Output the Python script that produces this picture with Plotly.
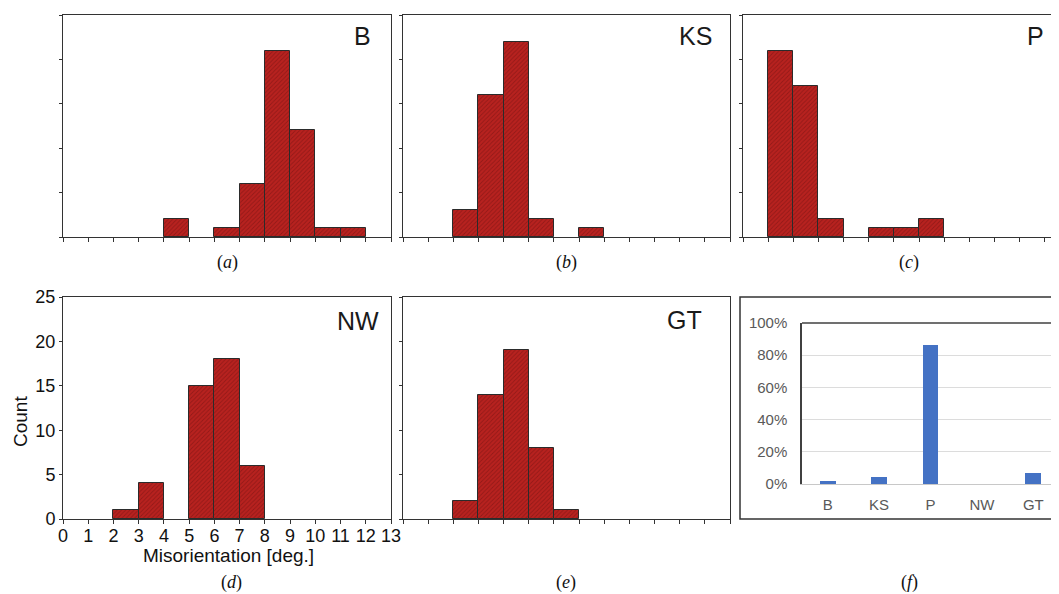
import plotly.graph_objects as go

W, H = 1059, 594
OFF = 8  # default page margin around the figure
FW, FH = W - OFF, H - OFF

# ---- data ----
bin_left = list(range(13))  # bins of 1 degree: [0,1), [1,2), ... [12,13)
counts_B = [0, 0, 0, 0, 2, 0, 1, 6, 21, 12, 1, 1, 0]
counts_KS = [0, 0, 3, 16, 22, 2, 0, 1, 0, 0, 0, 0, 0]
counts_P = [0, 21, 17, 2, 0, 1, 1, 2, 0, 0, 0, 0, 0]
counts_NW = [0, 0, 1, 4, 0, 15, 18, 6, 0, 0, 0, 0, 0]
counts_GT = [0, 0, 2, 14, 19, 8, 1, 0, 0, 0, 0, 0, 0]

share_labels = ["B", "KS", "P", "NW", "GT"]
share_values = [0.021, 0.045, 0.862, 0.0, 0.068]

count_ticks = [0, 5, 10, 15, 20, 25]
deg_ticks = list(range(14))


def px_x(p):
    return (p - OFF) / FW


def px_y(p):
    return 1 - (p - OFF) / FH


fig = go.Figure()

panels = [
    # name, counts, axis index, x px domain, y px domain, x range max, show labels, mirror y
    ("B", counts_B, 1, (63, 391), (15, 237), 13, False, True),
    ("KS", counts_KS, 2, (403, 730), (15, 237), 13, False, True),
    ("P", counts_P, 3, (743, 1059), (15, 237), 13 * (1059 - 743) / (1070 - 743), False, False),
    ("NW", counts_NW, 4, (63, 391), (297, 519), 13, True, True),
    ("GT", counts_GT, 5, (403, 730), (297, 519), 13, False, True),
]

bar_marker = dict(
    color="#b8221f",
    pattern=dict(shape="/", fgcolor="#6e0f0f", size=3, solidity=0.3, fillmode="overlay"),
    line=dict(color="#2b2b2b", width=1),
)

layout = dict(
    width=FW, height=FH,
    margin=dict(l=0, r=0, t=0, b=0, autoexpand=False),
    paper_bgcolor="white", plot_bgcolor="white",
    showlegend=False,
    bargap=0,
    template="none",
    font=dict(family="Liberation Sans, Arial, sans-serif", color="#111"),
)

for name, counts, i, xd, yd, xmax, labels, mirror_y in panels:
    xs = [b + 0.5 for b, c in zip(bin_left, counts) if c > 0]
    ys = [c for c in counts if c > 0]
    sfx = "" if i == 1 else str(i)
    fig.add_trace(go.Bar(x=xs, y=ys, width=1, marker=bar_marker,
                         xaxis="x" + sfx, yaxis="y" + sfx))
    layout["xaxis" + sfx] = dict(
        domain=[px_x(xd[0]), px_x(xd[1])], range=[0, xmax], anchor="y" + sfx,
        tickvals=deg_ticks, ticktext=[str(t) for t in deg_ticks],
        showticklabels=labels, ticks="outside", ticklen=4, tickcolor="#333",
        ticklabelstandoff=-4,
        showline=True, linecolor="#333", linewidth=1, mirror=True,
        showgrid=False, zeroline=False, automargin=False,
        tickfont=dict(size=18, color="#111"),
    )
    layout["yaxis" + sfx] = dict(
        domain=[px_y(yd[1]), px_y(yd[0])], range=[0, 25], anchor="x" + sfx,
        tickvals=count_ticks, showticklabels=labels,
        ticks="outside", ticklen=3, tickcolor="#333",
        showline=True, linecolor="#333", linewidth=1, mirror=mirror_y,
        showgrid=False, zeroline=False, automargin=False,
        tickfont=dict(size=18, color="#111"),
    )

# panel f: share bar chart
fig.add_trace(go.Bar(x=share_labels, y=share_values, width=0.31,
                     marker=dict(color="#4472c4", line=dict(width=0)),
                     xaxis="x6", yaxis="y6"))
layout["xaxis6"] = dict(
    domain=[px_x(802), 1.0], anchor="y6", showline=True, linecolor="#c8c8c8", linewidth=1,
    ticks="", tickfont=dict(size=15, color="#595959"), showgrid=False,
    ticklabelstandoff=7,
    automargin=False, zeroline=False,
)
layout["yaxis6"] = dict(
    domain=[px_y(484), px_y(323)], range=[0, 1], anchor="x6",
    tickvals=[0, 0.2, 0.4, 0.6, 0.8, 1.0], tickformat=".0%",
    tickfont=dict(size=15, color="#595959"),
    ticklabelstandoff=10,
    showgrid=True, gridcolor="#dcdcdc", gridwidth=1, zeroline=False,
    showline=True, linecolor="#404040", linewidth=1.5, ticks="",
    automargin=False,
)

fig.update_layout(**layout)

shapes = [
    # outer frame of panel f
    dict(type="rect", xref="paper", yref="paper",
         x0=px_x(740), x1=1.02, y0=px_y(519), y1=px_y(297),
         line=dict(color="#333", width=1.5), fillcolor="rgba(0,0,0,0)"),
    # top border of panel f plot area
    dict(type="line", xref="paper", yref="paper",
         x0=px_x(802), x1=1.0, y0=px_y(323), y1=px_y(323),
         line=dict(color="#404040", width=1.5)),
]
fig.update_layout(shapes=shapes)

annotations = []
# panel names
for txt, xr, yt in [("B", 373, 20), ("KS", 714, 20), ("P", 1046, 20),
                    ("NW", 381, 305), ("GT", 704, 304)]:
    annotations.append(dict(text=txt, x=px_x(xr), y=px_y(yt), xref="paper", yref="paper",
                            xanchor="right", yanchor="top", showarrow=False,
                            font=dict(size=25, color="#1a1a1a",
                                      family="Liberation Sans, Arial, sans-serif")))
# subfigure letters
for letter, cx, cy in [("a", 227, 263), ("b", 566, 263), ("c", 909, 263),
                       ("d", 231, 582), ("e", 566, 582), ("f", 909, 582)]:
    annotations.append(dict(text="(<i>%s</i>)" % letter, x=px_x(cx), y=px_y(cy),
                            xref="paper", yref="paper", xanchor="center", yanchor="middle",
                            showarrow=False,
                            font=dict(size=18, color="#111",
                                      family="Liberation Serif, Times New Roman, serif")))
# axis titles for panel d
annotations.append(dict(text="Count", x=px_x(20), y=px_y(422), xref="paper", yref="paper",
                        textangle=-90, showarrow=False, xanchor="center", yanchor="middle",
                        font=dict(size=19, color="#111")))
annotations.append(dict(text="Misorientation [deg.]", x=px_x(228), y=px_y(555),
                        xref="paper", yref="paper", showarrow=False,
                        xanchor="center", yanchor="middle",
                        font=dict(size=19, color="#111")))
fig.update_layout(annotations=annotations)

fig.write_html("out.html")
